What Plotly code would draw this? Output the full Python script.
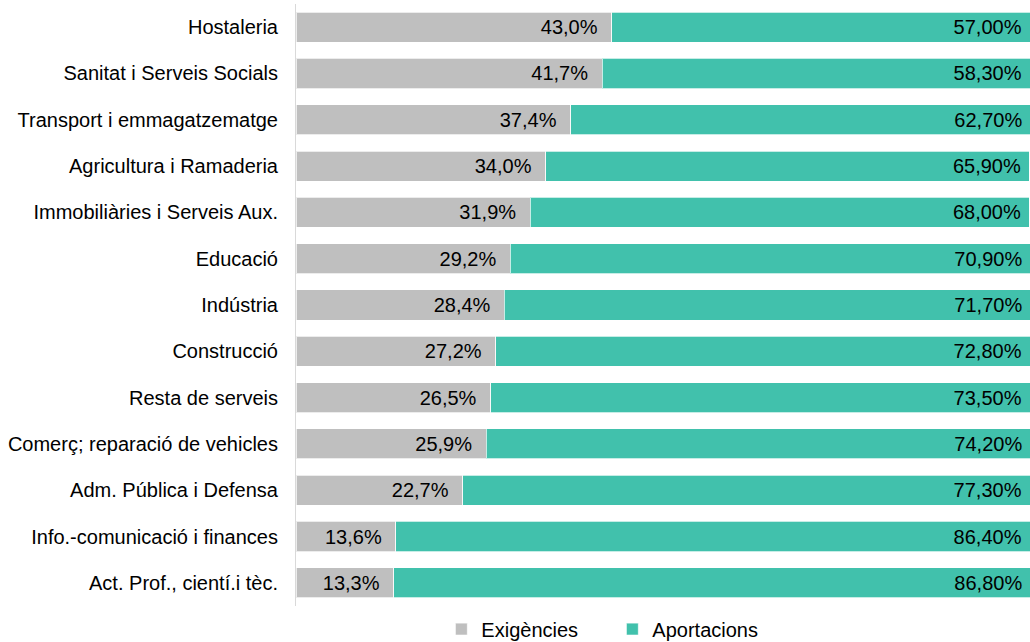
import plotly.graph_objects as go

categories = ["Hostaleria", "Sanitat i Serveis Socials", "Transport i emmagatzematge",
              "Agricultura i Ramaderia", "Immobiliàries i Serveis Aux.", "Educació",
              "Indústria", "Construcció", "Resta de serveis", "Comerç; reparació de vehicles",
              "Adm. Pública i Defensa", "Info.-comunicació i finances", "Act. Prof., cientí.i tèc."]
exigencies = [43.0, 41.7, 37.4, 34.0, 31.9, 29.2, 28.4, 27.2, 26.5, 25.9, 22.7, 13.6, 13.3]
aportacions = [57.00, 58.30, 62.70, 65.90, 68.00, 70.90, 71.70, 72.80, 73.50, 74.20, 77.30, 86.40, 86.80]

font = "Liberation Sans, Arial, sans-serif"
fs = 20
fig = go.Figure()
fig.add_trace(go.Bar(
    y=categories, x=exigencies, name="Exigències", orientation="h",
    marker=dict(color="#BFBFBF", line=dict(color="rgba(255,255,255,0.7)", width=1)),
    texttemplate="%{x:.1f}%\u00a0\u00a0", textposition="inside", insidetextanchor="end",
    textfont=dict(color="#000000", size=fs, family=font), textangle=0,
))
fig.add_trace(go.Bar(
    y=categories, x=aportacions, name="Aportacions", orientation="h",
    marker=dict(color="#41C1AC", line=dict(color="rgba(255,255,255,0.7)", width=1)),
    texttemplate="%{x:.2f}%\u00a0", textposition="inside", insidetextanchor="end",
    textfont=dict(color="#000000", size=fs, family=font), textangle=0,
))
fig.update_layout(
    barmode="stack", bargap=0.35,
    width=1030, height=642,
    margin=dict(l=296, r=0, t=4, b=36, autoexpand=False),
    paper_bgcolor="white", plot_bgcolor="white",
    separators=",.",
    font=dict(family=font, size=fs, color="#000000"),
    xaxis=dict(range=[0, 100], visible=False, fixedrange=True),
    yaxis=dict(autorange="reversed", showline=True, linecolor="#D9D9D9", linewidth=1,
               ticks="outside", ticklen=13, tickcolor="rgba(0,0,0,0)", showgrid=False,
               tickfont=dict(size=fs, family=font, color="#000000")),
    legend=dict(orientation="h", x=0.431, xanchor="center", y=-0.006, yanchor="top",
                font=dict(size=fs, family=font), traceorder="normal",
                itemwidth=30, entrywidth=126, entrywidthmode="pixels"),
    showlegend=True,
)
fig.write_html("out.html", config={"displayModeBar": False},
               post_script="document.body.style.margin='0';document.body.style.overflow='hidden';")
